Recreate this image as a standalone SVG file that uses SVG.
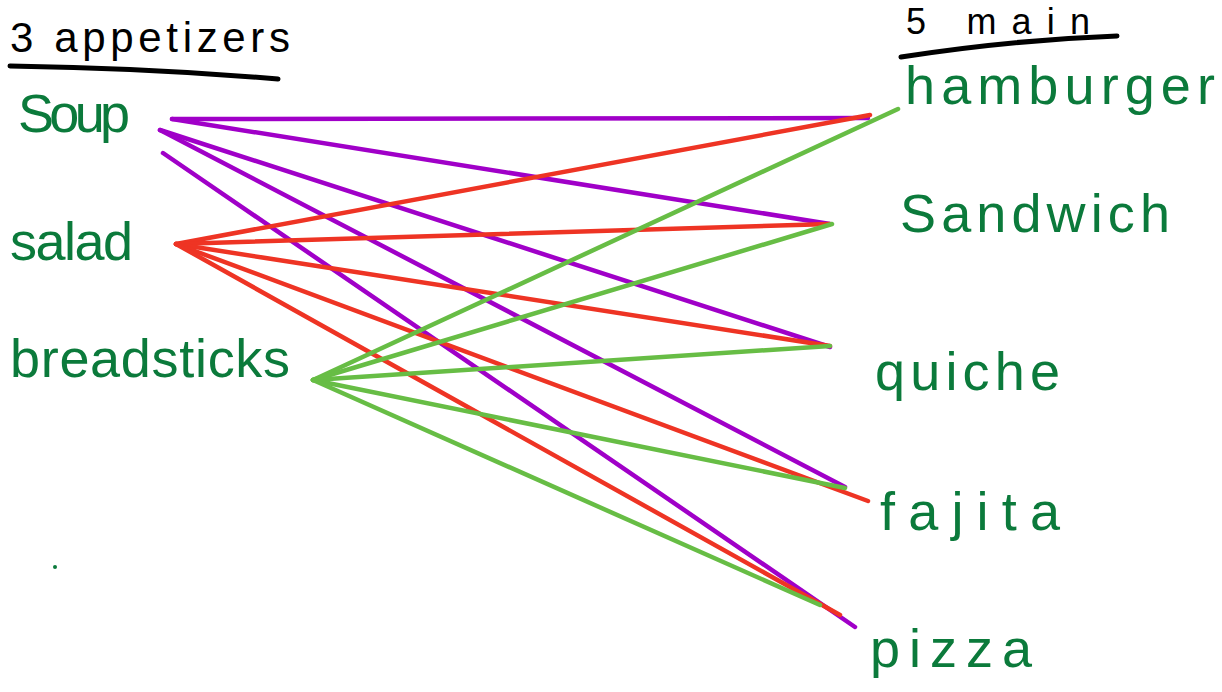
<svg xmlns="http://www.w3.org/2000/svg" width="1222" height="692" viewBox="0 0 1222 692">
<style>
.t{font-family:"Liberation Sans","DejaVu Sans",sans-serif;fill:#0b7a3b;font-size:54px}
.h{font-family:"Liberation Sans","DejaVu Sans",sans-serif;fill:#000;font-size:42px}
.ul{stroke:#000;stroke-width:5;fill:none;stroke-linecap:round}
.p{stroke:#a000c8;stroke-width:4.5;stroke-linecap:round}
.r{stroke:#ee3424;stroke-width:4.5;stroke-linecap:round}
.g{stroke:#67bd45;stroke-width:4.5;stroke-linecap:round}
</style>
<rect width="1222" height="692" fill="#fff"/>
<g id="header-appetizers">
<text class="h" x="10" y="52" textLength="280" lengthAdjust="spacing">3 appetizers</text>
<path class="ul" d="M10 66 Q150 68 278 79"/>
</g>
<g id="header-main">
<text class="h" x="906" y="34" textLength="184" lengthAdjust="spacing" style="font-size:36px">5 main</text>
<path class="ul" d="M901 57 Q1010 40 1117 36"/>
</g>
<g id="connectors">
<line class="p" x1="172" y1="119" x2="868" y2="118"/>
<line class="p" x1="172" y1="119" x2="830" y2="224"/>
<line class="p" x1="160" y1="130" x2="830" y2="347"/>
<line class="p" x1="160" y1="130" x2="845" y2="487"/>
<line class="p" x1="163" y1="153" x2="855" y2="627"/>
<line class="r" x1="176" y1="244" x2="870" y2="115"/>
<line class="r" x1="176" y1="244" x2="830" y2="224"/>
<line class="r" x1="176" y1="244" x2="830" y2="346"/>
<line class="r" x1="176" y1="244" x2="868" y2="501"/>
<line class="r" x1="176" y1="244" x2="840" y2="615"/>
<line class="g" x1="313" y1="380" x2="898" y2="109"/>
<line class="g" x1="313" y1="380" x2="832" y2="224"/>
<line class="g" x1="313" y1="380" x2="830" y2="346"/>
<line class="g" x1="313" y1="380" x2="845" y2="488"/>
<line class="g" x1="313" y1="380" x2="820" y2="605"/>
</g>
<g id="soup"><text class="t" x="18" y="132" textLength="112" lengthAdjust="spacing">Soup</text></g>
<g id="salad"><text class="t" x="10" y="260" textLength="123" lengthAdjust="spacing">salad</text></g>
<g id="breadsticks"><text class="t" x="10" y="377" textLength="280" lengthAdjust="spacing">breadsticks</text></g>
<g id="hamburger"><text class="t" x="905" y="104" textLength="310" lengthAdjust="spacing">hamburger</text></g>
<g id="sandwich"><text class="t" x="900" y="232" textLength="270" lengthAdjust="spacing">Sandwich</text></g>
<g id="quiche"><text class="t" x="875" y="390" textLength="185" lengthAdjust="spacing">quiche</text></g>
<g id="fajita"><text class="t" x="880" y="530" textLength="180" lengthAdjust="spacing">fajita</text></g>
<g id="pizza"><text class="t" x="870" y="667" textLength="162" lengthAdjust="spacing">pizza</text></g>
<circle cx="55" cy="567" r="2" fill="#0b7a3b"/>
</svg>
